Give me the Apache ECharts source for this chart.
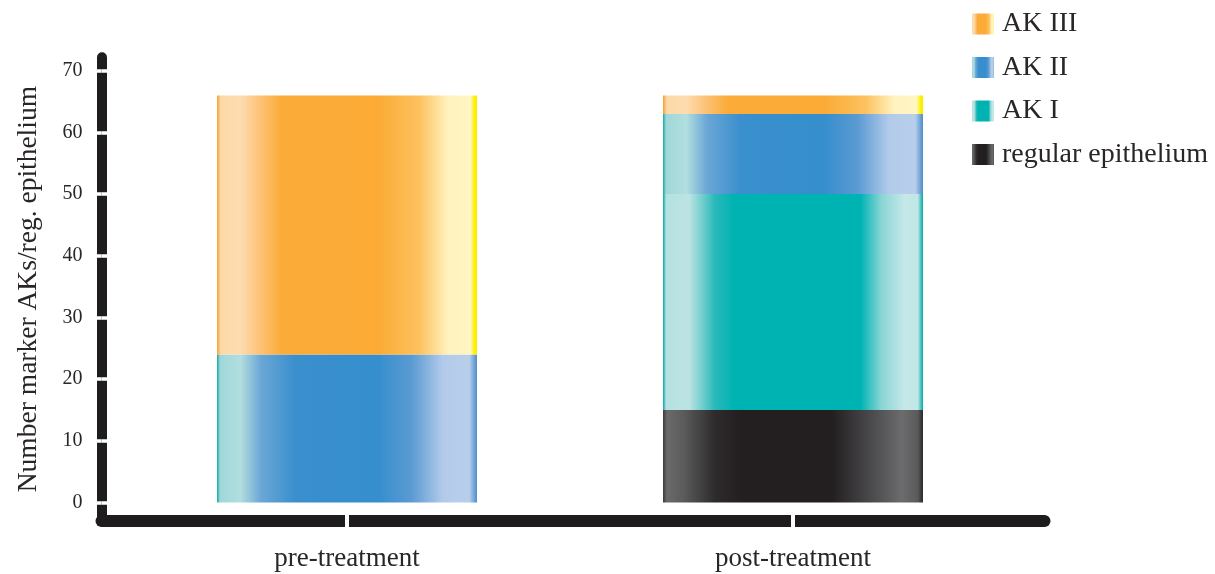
<!DOCTYPE html>
<html>
<head>
<meta charset="utf-8">
<script src="https://cdn.jsdelivr.net/npm/echarts@6/dist/echarts.min.js"></script>
<style>
  html, body { margin: 0; padding: 0; background: #ffffff; }
  #chart { width: 1215px; height: 574px; }
</style>
</head>
<body>
<div id="chart"></div>
<script>
// Categories and stacked counts per lesion grade
const categories = ['pre-treatment', 'post-treatment'];
const regularEpithelium = [0, 15];
const akI = [0, 35];
const akII = [24, 13];
const akIII = [42, 3];
const yTicks = [0, 10, 20, 30, 40, 50, 60, 70];
const legendOrder = ['AK III', 'AK II', 'AK I', 'regular epithelium'];

const FONT = "'Liberation Serif', 'DejaVu Serif', serif";
const TEXT = '#2a2627';
const AXIS_BLACK = '#1e1c1d';
const Y_MIN = -3;
const Y_MAX = 72.2;

function hGrad(stops) {
  return new echarts.graphic.LinearGradient(0, 0, 1, 0,
    stops.map(s => ({ offset: s[0], color: s[1] })));
}

const fills = {
  'AK III': hGrad([
    [0, '#f7a030'], [0.015, '#fcd9a8'], [0.09, '#fddcb0'], [0.16, '#fcc47a'],
    [0.25, '#fbab38'], [0.62, '#fbab36'], [0.78, '#fcc260'], [0.89, '#fff3bf'],
    [0.975, '#fff6c4'], [0.99, '#fff200'], [1, '#ffe800']
  ]),
  'AK II': hGrad([
    [0, '#13a9ad'], [0.012, '#9fd8da'], [0.09, '#b2dede'], [0.17, '#6aa6d6'],
    [0.3, '#3a8fcd'], [0.62, '#368ecd'], [0.75, '#5b9bd3'], [0.87, '#b3cbea'],
    [0.97, '#b8cfeb'], [1, '#4d8ccc']
  ]),
  'AK I': hGrad([
    [0, '#00a8a8'], [0.012, '#b6e2e2'], [0.1, '#bde3e3'], [0.2, '#2ab9b9'],
    [0.27, '#00b3b3'], [0.76, '#00b3b3'], [0.84, '#8ad5d5'], [0.93, '#c5e8e8'],
    [0.98, '#c0e6e6'], [1, '#00a8a8']
  ]),
  'regular epithelium': hGrad([
    [0, '#3a3a3a'], [0.015, '#6a6a6a'], [0.08, '#5b5b5b'], [0.2, '#2e2b2c'],
    [0.3, '#231f20'], [0.65, '#231f20'], [0.8, '#4a4a4c'], [0.92, '#6c6c6e'],
    [0.98, '#5a5a5a'], [1, '#2a2a2a']
  ])
};

function barSeries(name, data) {
  return {
    name: name,
    type: 'bar',
    stack: 'lesions',
    xAxisIndex: 0,
    yAxisIndex: 0,
    barWidth: 260,
    data: data,
    itemStyle: { color: fills[name] },
    emphasis: { disabled: true },
    z: 3
  };
}

const chart = echarts.init(document.getElementById('chart'), null, { renderer: 'canvas' });

chart.setOption({
  animation: false,
  backgroundColor: '#ffffff',
  grid: [
    // plotting area for the bars
    { left: 124, right: 199, top: 57.2, bottom: 53 },
    // frame carrying the heavy axis lines
    { left: 101.5, right: 170.5, top: 57.2, bottom: 53 }
  ],
  legend: {
    orient: 'vertical',
    left: 967,
    top: 5,
    itemWidth: 22,
    itemHeight: 21,
    itemGap: 15.5,
    icon: 'rect',
    data: legendOrder,
    selectedMode: false,
    textStyle: {
      fontFamily: FONT,
      fontSize: 28,
      color: TEXT,
      padding: [0, 0, 0, 3]
    }
  },
  xAxis: [
    {
      type: 'category',
      gridIndex: 0,
      position: 'bottom',
      data: categories,
      z: 10,
      axisLine: { show: false, onZero: false },
      axisTick: {
        show: true, alignWithLabel: true, inside: true, length: 7,
        lineStyle: { color: '#ffffff', width: 4 }
      },
      axisLabel: {
        margin: 24,
        fontFamily: FONT,
        fontSize: 27,
        color: TEXT
      }
    },
    {
      type: 'category',
      gridIndex: 0,
      position: 'bottom',
      data: categories,
      z: 10,
      axisLine: { show: false, onZero: false },
      axisTick: {
        show: true, alignWithLabel: true, inside: false, length: 7,
        lineStyle: { color: '#ffffff', width: 4 }
      },
      axisLabel: { show: false }
    },
    {
      type: 'value',
      gridIndex: 1,
      position: 'bottom',
      min: 0,
      max: 1,
      z: 1,
      axisLine: {
        show: true, onZero: false,
        lineStyle: { color: AXIS_BLACK, width: 12, cap: 'round' }
      },
      axisTick: { show: false },
      axisLabel: { show: false },
      splitLine: { show: false }
    }
  ],
  yAxis: [
    {
      type: 'value',
      gridIndex: 0,
      position: 'left',
      min: Y_MIN,
      max: Y_MAX,
      show: false
    },
    {
      type: 'value',
      gridIndex: 1,
      position: 'left',
      min: Y_MIN,
      max: Y_MAX,
      z: 2,
      name: 'Number marker AKs/reg. epithelium',
      nameLocation: 'middle',
      nameGap: 59,
      nameTextStyle: { fontFamily: FONT, fontSize: 27.5, color: TEXT },
      axisLine: {
        show: true, onZero: false,
        lineStyle: { color: AXIS_BLACK, width: 10, cap: 'round' }
      },
      axisTick: {
        show: true, inside: true, length: 6, customValues: yTicks,
        lineStyle: { color: '#ffffff', width: 3.5 }
      },
      axisLabel: {
        customValues: yTicks,
        margin: 19,
        fontFamily: FONT,
        fontSize: 20,
        color: TEXT
      },
      splitLine: { show: false }
    },
    {
      type: 'value',
      gridIndex: 1,
      position: 'left',
      min: Y_MIN,
      max: Y_MAX,
      z: 10,
      axisLine: { show: false, onZero: false },
      axisTick: {
        show: true, inside: false, length: 6, customValues: yTicks,
        lineStyle: { color: '#ffffff', width: 3.5 }
      },
      axisLabel: { show: false },
      splitLine: { show: false }
    }
  ],
  series: [
    barSeries('regular epithelium', regularEpithelium),
    barSeries('AK I', akI),
    barSeries('AK II', akII),
    barSeries('AK III', akIII)
  ]
});
</script>
</body>
</html>
